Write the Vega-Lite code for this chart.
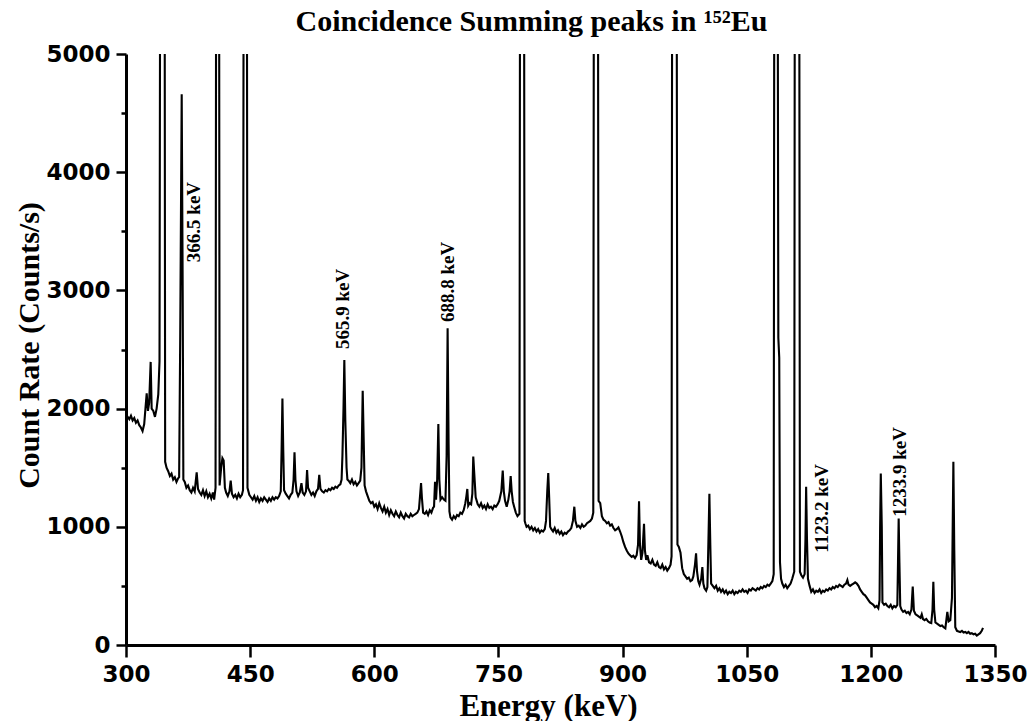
{
  "$schema": "https://vega.github.io/schema/vega-lite/v6.json",
  "autosize": "none",
  "width": 869,
  "height": 591,
  "padding": {"left": 126, "top": 54, "right": 40, "bottom": 76},
  "background": "white",
  "config": {"view": {"stroke": null}},
  "title": {
    "text": "Coincidence Summing peaks in ¹⁵²Eu",
    "font": "Liberation Serif",
    "fontSize": 30,
    "fontWeight": "bold",
    "color": "black",
    "anchor": "middle",
    "frame": "group",
    "dx": -29,
    "baseline": "alphabetic",
    "offset": -18
  },
  "datasets": {
    "spec": [
      {"e":300,"c":1950},{"e":302,"c":1930},{"e":304,"c":1910},{"e":306,"c":1940},{"e":308,"c":1900},{"e":310,"c":1920},{"e":312,"c":1880},{"e":314,"c":1900},{"e":316,"c":1860},{"e":318,"c":1840},{"e":320,"c":1810},{"e":322,"c":1870},{"e":323.5,"c":2000},{"e":325,"c":2130},{"e":326.5,"c":1980},{"e":328,"c":2050},{"e":329.8,"c":2395},{"e":331,"c":2000},{"e":333,"c":1980},{"e":335,"c":1930},{"e":337,"c":2000},{"e":339,"c":2120},{"e":340.5,"c":2400},{"e":341.1,"c":5150},{"e":346.8,"c":5150},{"e":347.3,"c":1550},
      {"e":349,"c":1500},{"e":351,"c":1470},{"e":353,"c":1430},{"e":355,"c":1450},{"e":357,"c":1400},{"e":359,"c":1420},{"e":361,"c":1380},{"e":363,"c":1410},{"e":364.2,"c":1420},{"e":365.5,"c":2600},{"e":367.3,"c":4660},{"e":368.5,"c":3000},{"e":369.3,"c":1400},
      {"e":371,"c":1380},{"e":373,"c":1330},{"e":375,"c":1350},{"e":377,"c":1310},{"e":379,"c":1290},{"e":381,"c":1330},{"e":383,"c":1300},{"e":385.4,"c":1460},{"e":387,"c":1320},{"e":389,"c":1290},{"e":391,"c":1270},{"e":393,"c":1310},{"e":395,"c":1260},{"e":397,"c":1300},{"e":399,"c":1250},{"e":401,"c":1280},{"e":403,"c":1240},{"e":405,"c":1290},{"e":406.5,"c":1230},{"e":408.2,"c":1330},{"e":408.8,"c":5150},{"e":412.6,"c":5150},{"e":413.1,"c":1350},{"e":415,"c":1500},{"e":416.5,"c":1580},{"e":418,"c":1560},{"e":419.5,"c":1330},
      {"e":421,"c":1290},{"e":423,"c":1260},{"e":425,"c":1300},{"e":426.5,"c":1390},{"e":428,"c":1280},{"e":430,"c":1250},{"e":432,"c":1270},{"e":434,"c":1240},{"e":436,"c":1280},{"e":438,"c":1250},{"e":440,"c":1270},{"e":441.4,"c":1310},{"e":442,"c":5150},{"e":446.2,"c":5150},{"e":446.8,"c":1330},
      {"e":449,"c":1270},{"e":451,"c":1250},{"e":453,"c":1230},{"e":455,"c":1260},{"e":457,"c":1220},{"e":459,"c":1250},{"e":461,"c":1210},{"e":463,"c":1240},{"e":465,"c":1220},{"e":467,"c":1250},{"e":469,"c":1230},{"e":471,"c":1210},{"e":473,"c":1240},{"e":475,"c":1220},{"e":477,"c":1250},{"e":479,"c":1230},{"e":481,"c":1250},{"e":483,"c":1240},{"e":485,"c":1260},{"e":487,"c":1300},{"e":488,"c":1650},{"e":489,"c":2085},{"e":490,"c":1650},{"e":491,"c":1310},
      {"e":493,"c":1280},{"e":495,"c":1260},{"e":497,"c":1240},{"e":499,"c":1270},{"e":501,"c":1290},{"e":502.5,"c":1400},{"e":503.6,"c":1630},{"e":504.7,"c":1400},{"e":506,"c":1300},{"e":508,"c":1260},{"e":510,"c":1290},{"e":512,"c":1370},{"e":513.5,"c":1290},{"e":515.5,"c":1270},{"e":517.5,"c":1300},{"e":518.8,"c":1480},{"e":520,"c":1330},{"e":522,"c":1300},{"e":524,"c":1270},{"e":526,"c":1290},{"e":528,"c":1260},{"e":530,"c":1300},{"e":532,"c":1320},{"e":533.5,"c":1440},{"e":535,"c":1320},{"e":537,"c":1300},{"e":539,"c":1290},{"e":541,"c":1310},{"e":543,"c":1300},{"e":545,"c":1320},{"e":547,"c":1310},{"e":549,"c":1330},{"e":551,"c":1320},{"e":553,"c":1340},{"e":555,"c":1330},{"e":557,"c":1350},{"e":559,"c":1360},{"e":560.5,"c":1400},{"e":561.5,"c":1600},{"e":562.8,"c":2000},{"e":563.8,"c":2410},{"e":565,"c":1900},{"e":566.5,"c":1500},{"e":567.5,"c":1400},
      {"e":569,"c":1390},{"e":571,"c":1370},{"e":573,"c":1400},{"e":575,"c":1360},{"e":577,"c":1380},{"e":579,"c":1350},{"e":581,"c":1370},{"e":583,"c":1390},{"e":584.5,"c":1500},{"e":586,"c":2150},{"e":587.3,"c":1700},{"e":588.3,"c":1350},
      {"e":590,"c":1300},{"e":592,"c":1260},{"e":594,"c":1220},{"e":596,"c":1200},{"e":598,"c":1210},{"e":600,"c":1170},{"e":602,"c":1190},{"e":604,"c":1150},{"e":606,"c":1200},{"e":608,"c":1160},{"e":610,"c":1130},{"e":612,"c":1170},{"e":614,"c":1120},{"e":616,"c":1150},{"e":618,"c":1100},{"e":620,"c":1140},{"e":622,"c":1110},{"e":624,"c":1090},{"e":626,"c":1130},{"e":628,"c":1100},{"e":630,"c":1080},{"e":632,"c":1120},{"e":634,"c":1090},{"e":636,"c":1070},{"e":638,"c":1110},{"e":640,"c":1090},{"e":642,"c":1080},{"e":644,"c":1110},{"e":646,"c":1090},{"e":648,"c":1100},{"e":650,"c":1110},{"e":652,"c":1120},{"e":654,"c":1150},{"e":655.5,"c":1280},{"e":656.5,"c":1370},{"e":657.5,"c":1250},{"e":659,"c":1120},
      {"e":661,"c":1110},{"e":663,"c":1130},{"e":665,"c":1100},{"e":667,"c":1140},{"e":669,"c":1120},{"e":671,"c":1160},{"e":672.2,"c":1170},{"e":673.4,"c":1380},{"e":674.6,"c":1230},{"e":676,"c":1400},{"e":677.4,"c":1870},{"e":678.6,"c":1400},{"e":680,"c":1230},{"e":682,"c":1250},{"e":684,"c":1230},{"e":686,"c":1220},{"e":687.4,"c":1600},{"e":688.6,"c":2680},{"e":689.8,"c":1700},{"e":690.8,"c":1130},
      {"e":692,"c":1080},{"e":694,"c":1060},{"e":696,"c":1090},{"e":698,"c":1070},{"e":700,"c":1100},{"e":702,"c":1090},{"e":704,"c":1120},{"e":706,"c":1110},{"e":708,"c":1140},{"e":710,"c":1200},{"e":711.3,"c":1260},{"e":712.4,"c":1320},{"e":713.5,"c":1180},{"e":715,"c":1200},{"e":717,"c":1190},{"e":718.5,"c":1280},{"e":719.6,"c":1595},{"e":720.8,"c":1450},{"e":722.5,"c":1250},
      {"e":725,"c":1190},{"e":727,"c":1170},{"e":729,"c":1200},{"e":731,"c":1160},{"e":733,"c":1180},{"e":735,"c":1150},{"e":737,"c":1190},{"e":739,"c":1160},{"e":741,"c":1170},{"e":743,"c":1150},{"e":745,"c":1180},{"e":747,"c":1170},{"e":749,"c":1190},{"e":751,"c":1220},{"e":753.5,"c":1300},{"e":755.2,"c":1475},{"e":756.5,"c":1300},{"e":758,"c":1220},{"e":760,"c":1170},{"e":762,"c":1230},{"e":763.5,"c":1300},{"e":764.8,"c":1430},{"e":766,"c":1300},{"e":767.5,"c":1210},{"e":769,"c":1170},{"e":771,"c":1120},{"e":773,"c":1090},{"e":775.4,"c":1110},{"e":776,"c":5150},{"e":781.1,"c":5150},{"e":781.7,"c":1050},
      {"e":782.5,"c":1030},{"e":784,"c":1000},{"e":786,"c":1010},{"e":788,"c":980},{"e":790,"c":1000},{"e":792,"c":970},{"e":794,"c":990},{"e":796,"c":960},{"e":798,"c":980},{"e":800,"c":950},{"e":802,"c":970},{"e":804,"c":960},{"e":806,"c":980},{"e":807.5,"c":1050},{"e":809,"c":1300},{"e":810.2,"c":1455},{"e":811.3,"c":1250},{"e":812.5,"c":1000},
      {"e":814,"c":980},{"e":816,"c":960},{"e":818,"c":990},{"e":820,"c":950},{"e":822,"c":970},{"e":824,"c":940},{"e":826,"c":960},{"e":828,"c":930},{"e":830,"c":950},{"e":832,"c":940},{"e":834,"c":960},{"e":836,"c":970},{"e":838,"c":990},{"e":840,"c":1050},{"e":841.7,"c":1170},{"e":843,"c":1050},{"e":845,"c":1000},{"e":847,"c":1010},{"e":849,"c":990},{"e":851,"c":1020},{"e":853,"c":1000},{"e":855,"c":1010},{"e":857,"c":1030},{"e":859,"c":1040},{"e":861,"c":1050},{"e":863,"c":1070},{"e":864.6,"c":1120},{"e":865.2,"c":5150},{"e":870.4,"c":5150},{"e":871,"c":1220},{"e":873,"c":1200},{"e":875,"c":1090},
      {"e":877,"c":1060},{"e":879,"c":1050},{"e":881,"c":1030},{"e":883,"c":1040},{"e":885,"c":1010},{"e":887,"c":1020},{"e":889,"c":990},{"e":891,"c":970},{"e":893,"c":980},{"e":895,"c":995},{"e":897,"c":960},{"e":899,"c":920},{"e":901,"c":870},{"e":903,"c":830},{"e":905,"c":800},{"e":907,"c":775},{"e":909,"c":760},{"e":911,"c":745},{"e":913,"c":755},{"e":915,"c":735},{"e":917,"c":760},{"e":918.7,"c":850},{"e":919.9,"c":1215},{"e":921,"c":850},{"e":922.5,"c":720},{"e":924,"c":780},{"e":925.9,"c":1025},{"e":927,"c":800},{"e":928.5,"c":720},{"e":930,"c":760},{"e":932,"c":700},{"e":934,"c":690},{"e":936,"c":720},{"e":938,"c":680},{"e":940,"c":670},{"e":942,"c":700},{"e":944,"c":660},{"e":946,"c":650},{"e":948,"c":680},{"e":950,"c":640},{"e":952,"c":660},{"e":954,"c":630},{"e":956,"c":650},{"e":958,"c":680},{"e":959.2,"c":750},{"e":959.8,"c":5150},{"e":965.5,"c":5150},{"e":966.3,"c":850},
      {"e":968,"c":830},{"e":970,"c":780},{"e":972,"c":650},{"e":974,"c":600},{"e":976,"c":580},{"e":978,"c":560},{"e":980,"c":570},{"e":982,"c":540},{"e":984,"c":550},{"e":985.5,"c":580},{"e":987.5,"c":680},{"e":988.8,"c":775},{"e":990,"c":620},{"e":991.5,"c":540},{"e":993,"c":510},{"e":995,"c":560},{"e":996.4,"c":660},{"e":997.6,"c":520},{"e":999,"c":480},{"e":1001,"c":460},{"e":1002.5,"c":490},{"e":1003.8,"c":900},{"e":1004.9,"c":1280},{"e":1006,"c":850},{"e":1007,"c":520},
      {"e":1009,"c":500},{"e":1011,"c":480},{"e":1013,"c":500},{"e":1015,"c":460},{"e":1017,"c":480},{"e":1019,"c":450},{"e":1021,"c":470},{"e":1023,"c":440},{"e":1025,"c":460},{"e":1027,"c":430},{"e":1029,"c":450},{"e":1031,"c":440},{"e":1033,"c":460},{"e":1035,"c":430},{"e":1037,"c":450},{"e":1039,"c":440},{"e":1041,"c":460},{"e":1043,"c":450},{"e":1045,"c":470},{"e":1047,"c":450},{"e":1049,"c":460},{"e":1051,"c":440},{"e":1053,"c":470},{"e":1055,"c":460},{"e":1057,"c":480},{"e":1059,"c":470},{"e":1061,"c":460},{"e":1063,"c":480},{"e":1065,"c":470},{"e":1067,"c":490},{"e":1069,"c":480},{"e":1071,"c":500},{"e":1073,"c":490},{"e":1075,"c":510},{"e":1077,"c":500},{"e":1079,"c":520},{"e":1081,"c":540},{"e":1082.6,"c":600},{"e":1083.2,"c":5150},{"e":1087.6,"c":5150},{"e":1088.2,"c":2600},{"e":1089.3,"c":2430},{"e":1090.2,"c":700},
      {"e":1091.5,"c":560},{"e":1093,"c":520},{"e":1095,"c":490},{"e":1097,"c":510},{"e":1099,"c":480},{"e":1101,"c":500},{"e":1103,"c":520},{"e":1105,"c":560},{"e":1107.4,"c":620},{"e":1108,"c":5150},{"e":1113.6,"c":5150},{"e":1114.3,"c":620},{"e":1116,"c":590},{"e":1118,"c":570},{"e":1120,"c":600},{"e":1121,"c":900},{"e":1121.8,"c":1338},{"e":1122.8,"c":900},{"e":1124,"c":560},
      {"e":1126,"c":500},{"e":1128,"c":450},{"e":1130,"c":470},{"e":1132,"c":440},{"e":1134,"c":460},{"e":1136,"c":450},{"e":1138,"c":470},{"e":1140,"c":440},{"e":1142,"c":460},{"e":1144,"c":450},{"e":1146,"c":470},{"e":1148,"c":460},{"e":1150,"c":480},{"e":1152,"c":470},{"e":1154,"c":490},{"e":1156,"c":480},{"e":1158,"c":500},{"e":1160,"c":490},{"e":1162,"c":510},{"e":1164,"c":500},{"e":1166,"c":490},{"e":1168,"c":510},{"e":1170,"c":520},{"e":1171.6,"c":550},{"e":1173,"c":510},{"e":1175,"c":500},{"e":1177,"c":510},{"e":1179,"c":520},{"e":1181,"c":530},{"e":1183,"c":520},{"e":1185,"c":500},{"e":1187,"c":470},{"e":1189,"c":450},{"e":1191,"c":430},{"e":1193,"c":420},{"e":1195,"c":400},{"e":1197,"c":380},{"e":1199,"c":360},{"e":1201,"c":350},{"e":1203,"c":340},{"e":1205,"c":320},{"e":1207,"c":330},{"e":1209,"c":310},{"e":1210.5,"c":380},{"e":1211.2,"c":1000},{"e":1212,"c":1450},{"e":1213.2,"c":1000},{"e":1214,"c":360},
      {"e":1216,"c":340},{"e":1218,"c":350},{"e":1220,"c":330},{"e":1222,"c":320},{"e":1224,"c":340},{"e":1226,"c":310},{"e":1228,"c":330},{"e":1230,"c":320},{"e":1232,"c":340},{"e":1232.8,"c":700},{"e":1233.6,"c":1070},{"e":1234.5,"c":700},{"e":1235.5,"c":330},{"e":1237,"c":300},{"e":1239,"c":280},{"e":1241,"c":290},{"e":1243,"c":270},{"e":1245,"c":280},{"e":1247,"c":260},{"e":1249,"c":300},{"e":1250.6,"c":495},{"e":1252,"c":290},{"e":1254,"c":260},{"e":1256,"c":250},{"e":1258,"c":240},{"e":1260,"c":230},{"e":1261.5,"c":260},{"e":1263,"c":220},{"e":1265,"c":210},{"e":1267,"c":220},{"e":1269,"c":200},{"e":1271,"c":190},{"e":1273,"c":185},{"e":1274.5,"c":300},{"e":1275.5,"c":535},{"e":1276.5,"c":300},{"e":1278,"c":190},{"e":1280,"c":180},{"e":1282,"c":170},{"e":1284,"c":160},{"e":1286,"c":165},{"e":1288,"c":150},{"e":1290,"c":140},{"e":1292.4,"c":280},{"e":1294,"c":200},{"e":1296,"c":210},{"e":1298,"c":400},{"e":1299.7,"c":1550},{"e":1300.8,"c":800},{"e":1302,"c":150},
      {"e":1304,"c":120},{"e":1306,"c":115},{"e":1308,"c":110},{"e":1310,"c":120},{"e":1312,"c":105},{"e":1314,"c":110},{"e":1316,"c":100},{"e":1318,"c":110},{"e":1320,"c":95},{"e":1322,"c":100},{"e":1324,"c":90},{"e":1326,"c":95},{"e":1328,"c":80},{"e":1330,"c":90},{"e":1332,"c":100},{"e":1334,"c":120},{"e":1335.5,"c":145}
    ],
    "ann": [
      {"e": 381.8, "c": 3578, "label": "366.5 keV"},
      {"e": 562.2, "c": 2844, "label": "565.9 keV"},
      {"e": 689.1, "c": 3071, "label": "688.8 keV"},
      {"e": 1140.6, "c": 1156, "label": "1123.2 keV"},
      {"e": 1235.2, "c": 1465, "label": "1233.9 keV"}
    ]
  },
  "layer": [
    {
      "data": {"name": "spec"},
      "mark": {"type": "line", "color": "black", "strokeWidth": 2.1, "clip": true, "interpolate": "linear"},
      "encoding": {
        "x": {
          "field": "e", "type": "quantitative",
          "scale": {"domain": [300, 1350], "nice": false, "zero": false},
          "axis": {
            "values": [300, 450, 600, 750, 900, 1050, 1200, 1350],
            "format": "d",
            "grid": false,
            "domainColor": "black", "domainWidth": 3,
            "tickColor": "black", "tickWidth": 2.5, "tickSize": 12,
            "labelFont": "DejaVu Sans", "labelFontWeight": "bold", "labelFontSize": 23, "labelColor": "black", "labelPadding": 6,
            "labelFlush": false, "labelOverlap": false,
            "title": "Energy (keV)",
            "titleFont": "Liberation Serif", "titleFontSize": 31, "titleFontWeight": "bold", "titleColor": "black",
            "titleX": 422, "titleY": 70, "titleAlign": "center", "titleBaseline": "alphabetic"
          }
        },
        "y": {
          "field": "c", "type": "quantitative",
          "scale": {"domain": [0, 5000], "nice": false},
          "axis": {
            "values": [0, 500, 1000, 1500, 2000, 2500, 3000, 3500, 4000, 4500, 5000],
            "format": "d",
            "labelExpr": "datum.value % 1000 === 0 ? datum.label : ''",
            "grid": false,
            "domainColor": "black", "domainWidth": 3,
            "tickColor": "black", "tickWidth": 2.5,
            "tickSize": {"condition": {"test": "datum.value % 1000 === 0", "value": 10}, "value": 5},
            "labelFont": "DejaVu Sans", "labelFontWeight": "bold", "labelFontSize": 23, "labelColor": "black", "labelPadding": 6,
            "labelFlush": false, "labelOverlap": false,
            "title": "Count Rate (Counts/s)",
            "titleFont": "Liberation Serif", "titleFontSize": 30, "titleFontWeight": "bold", "titleColor": "black",
            "titleAngle": 270, "titleX": -88, "titleY": 291, "titleAlign": "center", "titleBaseline": "alphabetic"
          }
        }
      }
    },
    {
      "data": {"name": "ann"},
      "mark": {"type": "text", "angle": 270, "font": "Liberation Serif", "fontWeight": "bold", "fontSize": 19, "color": "black", "align": "center", "baseline": "middle"},
      "encoding": {
        "x": {"field": "e", "type": "quantitative"},
        "y": {"field": "c", "type": "quantitative"},
        "text": {"field": "label"}
      }
    }
  ]
}
